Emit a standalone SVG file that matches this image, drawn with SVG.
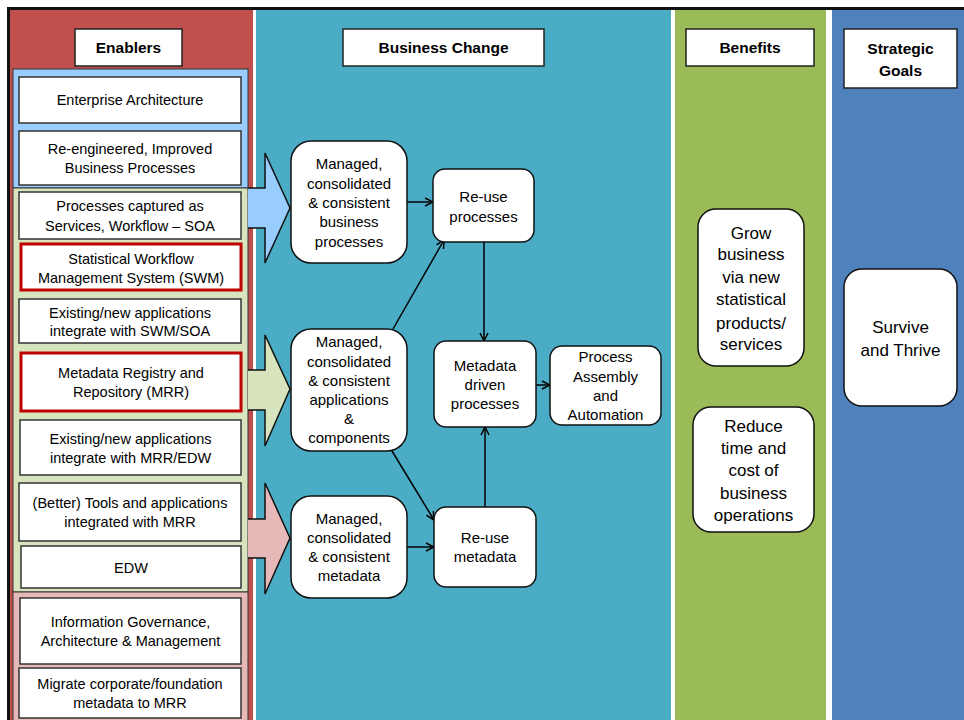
<svg xmlns="http://www.w3.org/2000/svg" width="964" height="720" viewBox="0 0 964 720">
<defs>
<style>
text{font-family:"Liberation Sans",Arial,sans-serif;fill:#000;text-anchor:middle}
.hdr{fill:#fff;stroke:#222;stroke-width:1.5}
.ht{font-size:15.5px;font-weight:bold}
.lb{fill:#fff;stroke:#333;stroke-width:1.5}
.rb{fill:#fff;stroke:#C00000;stroke-width:3}
.lt{font-size:14.5px}
.nb{fill:#fff;stroke:#111;stroke-width:1.5}
.nt{font-size:15px}
.bt{font-size:17px}
.con{stroke:#000;stroke-width:1.5;fill:none}
.barrow{stroke:#111;stroke-width:1.5}
</style>
<marker id="ah" markerWidth="10" markerHeight="10" refX="9" refY="5" orient="auto" markerUnits="userSpaceOnUse">
<path d="M1,1 L9,5 L1,9" fill="none" stroke="#000" stroke-width="1.5"/>
</marker>
</defs>
<rect x="0" y="0" width="964" height="720" fill="#fff"/>
<g id="columns">
<rect x="10" y="10" width="243" height="710" fill="#C0504D"/>
<rect x="256" y="10" width="415" height="710" fill="#4BACC6"/>
<rect x="675" y="10" width="151" height="710" fill="#9BBB59"/>
<rect x="832" y="10" width="132" height="710" fill="#4F81BD"/>
<rect x="7" y="7" width="957" height="3" fill="#111"/>
<rect x="7" y="7" width="3" height="713" fill="#111"/>
</g>
<g id="panels">
<rect x="13" y="69" width="235" height="119" fill="#99CCFF" stroke="#333" stroke-width="1"/>
<rect x="13" y="188" width="235" height="404" fill="#D7E4BD" stroke="#333" stroke-width="1"/>
<rect x="13" y="592" width="235" height="130" fill="#E6B9B8" stroke="#333" stroke-width="1"/>
</g>
<g id="headers">
<g id="h-enablers"><rect class="hdr" x="75" y="29" width="107" height="37"/><text class="ht" x="128.5" y="53">Enablers</text></g>
<g id="h-business"><rect class="hdr" x="343" y="29" width="201" height="37"/><text class="ht" x="443.5" y="53">Business Change</text></g>
<g id="h-benefits"><rect class="hdr" x="686" y="29" width="128" height="37"/><text class="ht" x="750" y="53">Benefits</text></g>
<g id="h-goals"><rect class="hdr" x="844" y="29" width="113" height="59"/><text class="ht" x="900.5" y="53.5">Strategic</text><text class="ht" x="900.5" y="75.5">Goals</text></g>
</g>
<g id="block-arrows">
<path class="barrow" d="M248,188 L265,188 L265,153 L290,208 L265,263 L265,228 L248,228" fill="#99CCFF"/>
<path class="barrow" d="M248,370 L265,370 L265,335 L290,389 L265,446 L265,410 L248,410" fill="#D7E4BD"/>
<path class="barrow" d="M248,519 L265,519 L265,483 L290,538 L265,594 L265,558 L248,558" fill="#E6B9B8"/>
</g>
<g id="enabler-ea"><rect class="lb" x="19" y="77" width="222" height="46"/><text class="lt" x="130" y="105">Enterprise Architecture</text></g>
<g id="enabler-reeng"><rect class="lb" x="19" y="131" width="222" height="54"/><text class="lt" x="130" y="154">Re-engineered, Improved</text><text class="lt" x="130" y="173">Business Processes</text></g>
<g id="enabler-soa"><rect class="lb" x="19" y="192" width="222" height="47"/><text class="lt" x="130" y="211">Processes captured as</text><text class="lt" x="130" y="231">Services, Workflow – SOA</text></g>
<g id="enabler-swm"><rect class="rb" x="21" y="244" width="220" height="46"/><text class="lt" x="131" y="264">Statistical Workflow</text><text class="lt" x="131" y="283">Management System (SWM)</text></g>
<g id="enabler-apps-swm"><rect class="lb" x="19" y="299" width="222" height="44"/><text class="lt" x="130" y="318">Existing/new applications</text><text class="lt" x="130" y="336">integrate with SWM/SOA</text></g>
<g id="enabler-mrr"><rect class="rb" x="21" y="353" width="220" height="58"/><text class="lt" x="131" y="378">Metadata Registry and</text><text class="lt" x="131" y="397">Repository (MRR)</text></g>
<g id="enabler-apps-mrr"><rect class="lb" x="20" y="420" width="221" height="55"/><text class="lt" x="130.5" y="444">Existing/new applications</text><text class="lt" x="130.5" y="463">integrate with MRR/EDW</text></g>
<g id="enabler-tools"><rect class="lb" x="19" y="483" width="222" height="58"/><text class="lt" x="130" y="508">(Better) Tools and applications</text><text class="lt" x="130" y="527">integrated with MRR</text></g>
<g id="enabler-edw"><rect class="lb" x="21" y="546" width="220" height="42"/><text class="lt" x="131" y="573">EDW</text></g>
<g id="enabler-gov"><rect class="lb" x="20" y="598" width="221" height="66"/><text class="lt" x="130.5" y="627">Information Governance,</text><text class="lt" x="130.5" y="646">Architecture &amp; Management</text></g>
<g id="enabler-migrate"><rect class="lb" x="19" y="668" width="222" height="50"/><text class="lt" x="130" y="689">Migrate corporate/foundation</text><text class="lt" x="130" y="708">metadata to MRR</text></g>
<g id="connectors">
<line class="con" x1="407" y1="202" x2="433" y2="202" marker-end="url(#ah)"/>
<line class="con" x1="393" y1="329" x2="444" y2="240" marker-end="url(#ah)"/>
<line class="con" x1="484" y1="242" x2="484" y2="341" marker-end="url(#ah)"/>
<line class="con" x1="536" y1="385" x2="550" y2="385" marker-end="url(#ah)"/>
<line class="con" x1="392" y1="451" x2="434" y2="520" marker-end="url(#ah)"/>
<line class="con" x1="407" y1="547" x2="434" y2="547" marker-end="url(#ah)"/>
<line class="con" x1="485" y1="507" x2="485" y2="427" marker-end="url(#ah)"/>
</g>
<g id="bc-processes"><rect class="nb" x="291" y="141" width="116" height="122" rx="20"/><text class="nt" x="349" y="169">Managed,</text><text class="nt" x="349" y="188.5">consolidated</text><text class="nt" x="349" y="208">&amp; consistent</text><text class="nt" x="349" y="227">business</text><text class="nt" x="349" y="246.5">processes</text></g>
<g id="bc-apps"><rect class="nb" x="291" y="329" width="116" height="122" rx="20"/><text class="nt" x="349" y="347">Managed,</text><text class="nt" x="349" y="367">consolidated</text><text class="nt" x="349" y="386">&amp; consistent</text><text class="nt" x="349" y="405">applications</text><text class="nt" x="349" y="424">&amp;</text><text class="nt" x="349" y="443">components</text></g>
<g id="bc-metadata"><rect class="nb" x="291" y="496" width="116" height="102" rx="20"/><text class="nt" x="349" y="524">Managed,</text><text class="nt" x="349" y="543">consolidated</text><text class="nt" x="349" y="562">&amp; consistent</text><text class="nt" x="349" y="581">metadata</text></g>
<g id="bc-reuse-proc"><rect class="nb" x="433" y="169" width="101" height="73" rx="12"/><text class="nt" x="483.5" y="202">Re-use</text><text class="nt" x="483.5" y="222">processes</text></g>
<g id="bc-md-driven"><rect class="nb" x="434" y="341" width="102" height="86" rx="12"/><text class="nt" x="485" y="371">Metadata</text><text class="nt" x="485" y="390">driven</text><text class="nt" x="485" y="409">processes</text></g>
<g id="bc-assembly"><rect class="nb" x="550" y="346" width="111" height="79" rx="12"/><text class="nt" x="605.5" y="362">Process</text><text class="nt" x="605.5" y="382">Assembly</text><text class="nt" x="605.5" y="401">and</text><text class="nt" x="605.5" y="420">Automation</text></g>
<g id="bc-reuse-md"><rect class="nb" x="434" y="507" width="102" height="80" rx="12"/><text class="nt" x="485" y="543">Re-use</text><text class="nt" x="485" y="562">metadata</text></g>
<g id="benefit-grow"><rect class="nb" x="698" y="209" width="106" height="157" rx="18"/><text class="bt" x="751" y="239">Grow</text><text class="bt" x="751" y="260">business</text><text class="bt" x="751" y="283">via new</text><text class="bt" x="751" y="305">statistical</text><text class="bt" x="751" y="329">products/</text><text class="bt" x="751" y="350">services</text></g>
<g id="benefit-reduce"><rect class="nb" x="693" y="407" width="121" height="125" rx="18"/><text class="bt" x="753.5" y="432">Reduce</text><text class="bt" x="753.5" y="454">time and</text><text class="bt" x="753.5" y="476">cost of</text><text class="bt" x="753.5" y="499">business</text><text class="bt" x="753.5" y="521">operations</text></g>
<g id="goal-survive"><rect class="nb" x="844" y="269" width="113" height="137" rx="18"/><text class="bt" x="900.5" y="333">Survive</text><text class="bt" x="900.5" y="356">and Thrive</text></g>
</svg>
